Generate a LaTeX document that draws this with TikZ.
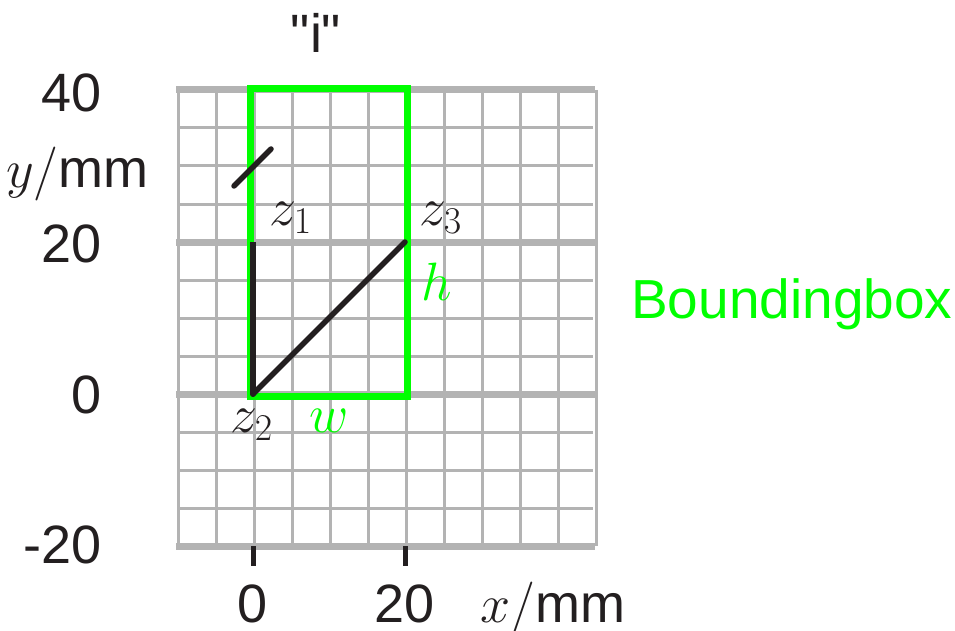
\RequirePackage{fix-cm}
\documentclass[tikz,border=0pt]{standalone}
\usepackage{fontspec}
\setmainfont{Liberation Sans}
\newfontfamily\rawsans{Liberation Sans}
\definecolor{gridgray}{HTML}{B3B3B3}
\definecolor{bbgreen}{HTML}{00FF00}
\definecolor{ink}{HTML}{231F20}
\begin{document}
\begin{tikzpicture}[x=1pt,y=-1pt,
  lbl/.style={inner sep=0pt,font=\fontsize{54}{60}\selectfont,text=ink},
  glbl/.style={inner sep=0pt,font=\fontsize{54}{60}\selectfont,text=bbgreen},
  thin grid/.style={draw=gridgray,line width=3pt},
  thick grid/.style={draw=gridgray,line width=7pt},
  pen/.style={draw=ink,line width=5.5pt,line cap=round},
  bbox/.style={draw=bbgreen,line width=7pt}]
\useasboundingbox (0,0) rectangle (955,631);
% grid
\foreach \i in {0,...,11} {
  \draw[thin grid] ({178+\i*38},90) -- ({178+\i*38},546);
}
\foreach \j in {0,...,12} {
  \draw[thin grid] (178,{90+\j*38}) -- (593,{90+\j*38});
}
\foreach \j in {0,4,8,12} {
  \draw[thick grid] (176,{90+\j*38}) -- (595,{90+\j*38});
}
% ticks
\coordinate (t0a) at (253,546);
\coordinate (t0b) at (253,566);
\coordinate (t20a) at (405,546);
\coordinate (t20b) at (405,566);
\draw[draw=ink,line width=5pt] (t0a) -- (t0b);
\draw[draw=ink,line width=5pt] (t20a) -- (t20b);
% bounding box
\coordinate (bb1) at (250,88.5);
\coordinate (bb2) at (407,396.5);
\draw[bbox] (bb1) rectangle (bb2);
% glyph strokes
\coordinate (z1) at (253,242);
\coordinate (z2) at (253,394);
\coordinate (z3) at (405,242);
\coordinate (d1) at (234,186);
\coordinate (d2) at (271,149);
\draw[draw=ink,line width=6pt,line cap=butt] (z1) -- (z2);
\fill[ink] (z2) circle (3pt);
\draw[pen] (z2) -- (z3);
\draw[pen] (d1) -- (d2);
% y labels
\node[lbl,anchor=base east] (y40) at (102,112) {40};
\node[lbl,anchor=base east] (y20) at (102,262) {20};
\node[lbl,anchor=base east] (y0) at (102,413) {0};
\node[lbl,anchor=base east] (ym20) at (102,563) {-20};
\node[lbl,anchor=base west] (yax) at (6,187) {$y/$mm};
% x labels
\node[lbl,anchor=base] (x0) at (253,622) {0};
\node[lbl,anchor=base] (x20) at (405,622) {20};
\node[lbl,anchor=base west] (xax) at (480,622) {$x/$mm};
% title
\node[lbl,anchor=base] (ti) at (316,53) {\rawsans "i"};
% point labels
\node[lbl,anchor=base west] (lz1) at (269,225) {$z_1$};
\node[lbl,anchor=base west] (lz3) at (419,225) {$z_3$};
\node[lbl,anchor=base west] (lz2) at (230,432) {$z_2$};
\node[glbl,anchor=base west] (lw) at (309,432) {$w$};
\node[glbl,anchor=base west] (lh) at (421,300) {$h$};
\node[glbl,anchor=base west,font=\fontsize{55}{60}\selectfont] (lbb) at (631,318) {Boundingbox};
\end{tikzpicture}
\end{document}
